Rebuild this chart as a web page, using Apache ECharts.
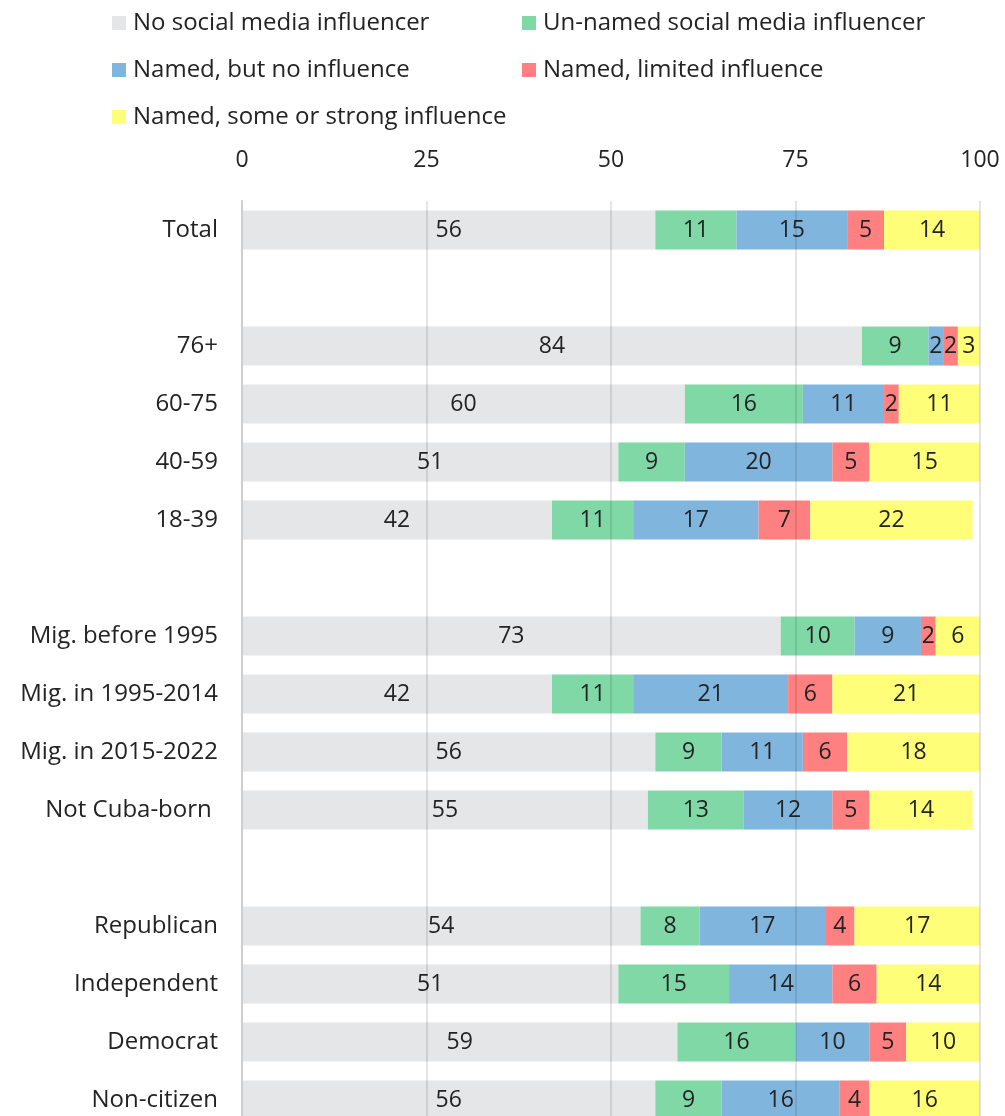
<!DOCTYPE html>
<html>
<head>
<meta charset="utf-8">
<script src="https://cdn.jsdelivr.net/npm/echarts@6/dist/echarts.min.js"></script>
<style>
  html, body { margin: 0; padding: 0; background: #fff; }
  #chart { width: 1005px; height: 1116px; }
</style>
</head>
<body>
<div id="chart"></div>
<script>
// Row labels, top to bottom; empty strings are spacer rows between groups
const categories = [
  'Total', '',
  '76+', '60-75', '40-59', '18-39', '',
  'Mig. before 1995', 'Mig. in 1995-2014', 'Mig. in 2015-2022', 'Not Cuba-born ', '',
  'Republican', 'Independent', 'Democrat', 'Non-citizen'
];

const seriesNames = [
  'No social media influencer',
  'Un-named social media influencer',
  'Named, but no influence',
  'Named, limited influence',
  'Named, some or strong influence'
];

// Shares in percent, one array per response category (null = spacer row)
const noInfluencer   = [56, null, 84, 60, 51, 42, null, 73, 42, 56, 55, null, 54, 51, 59, 56];
const unnamed        = [11, null,  9, 16,  9, 11, null, 10, 11,  9, 13, null,  8, 15, 16,  9];
const namedNone      = [15, null,  2, 11, 20, 17, null,  9, 21, 11, 12, null, 17, 14, 10, 16];
const namedLimited   = [ 5, null,  2,  2,  5,  7, null,  2,  6,  6,  5, null,  4,  6,  5,  4];
const namedStrong    = [14, null,  3, 11, 15, 22, null,  6, 21, 18, 14, null, 17, 14, 10, 16];

const xTicks = [0, 25, 50, 75, 100];

const colors = ['#e5e6e8', '#80d8a7', '#80b5de', '#fe8080', '#fefe78'];
const values = [noInfluencer, unnamed, namedNone, namedLimited, namedStrong];

const FONT = '"Open Sans", "Noto Sans", sans-serif';
const TEXT = '#232323';

const legendPos = [
  { left: 112, top: 11 },
  { left: 522, top: 11 },
  { left: 112, top: 58 },
  { left: 522, top: 58 },
  { left: 112, top: 105 }
];

const chart = echarts.init(document.getElementById('chart'));

chart.setOption({
  animation: false,
  color: colors,
  textStyle: { fontFamily: FONT },
  legend: seriesNames.map((name, i) => ({
    data: [name],
    left: legendPos[i].left,
    top: legendPos[i].top,
    padding: 0,
    orient: 'horizontal',
    icon: 'rect',
    itemWidth: 14,
    itemHeight: 14,
    itemGap: 0,
    selectedMode: false,
    textStyle: { fontSize: 24, lineHeight: 24, color: TEXT, fontFamily: FONT, padding: [0, 0, 0, 2] }
  })),
  grid: { left: 242, right: 25, top: 201, height: 928, outerBoundsMode: 'none', containLabel: false },
  xAxis: {
    type: 'value',
    position: 'top',
    min: 0,
    max: 100,
    interval: 25,
    z: 10,
    axisLine: { show: false },
    axisTick: { show: false },
    axisLabel: {
      fontSize: 23, color: TEXT, margin: 29, fontFamily: FONT,
      formatter: v => (xTicks.includes(v) ? String(v) : '')
    },
    splitLine: { show: true, lineStyle: { color: 'rgba(0,0,0,0.1)', width: 2 } }
  },
  yAxis: {
    type: 'category',
    inverse: true,
    data: categories,
    z: 10,
    axisTick: { show: false },
    axisLine: { show: true, lineStyle: { color: '#cfcfcf', width: 2 } },
    axisLabel: { fontSize: 24, color: TEXT, margin: 24, fontFamily: FONT }
  },
  series: seriesNames.map((name, i) => ({
    name,
    type: 'bar',
    stack: 'total',
    barWidth: 39,
    data: values[i],
    itemStyle: { color: colors[i] },
    label: {
      show: true,
      position: 'inside',
      color: TEXT,
      fontSize: 23,
      fontFamily: FONT,
      formatter: p => (p.value == null ? '' : String(p.value))
    }
  }))
});
</script>
</body>
</html>
